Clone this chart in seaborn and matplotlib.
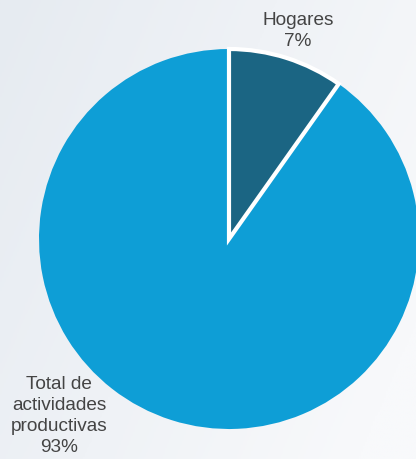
import numpy as np
import matplotlib
matplotlib.use("Agg")
import matplotlib.pyplot as plt
import seaborn as sns
from matplotlib.colors import LinearSegmentedColormap

# Data
categories = ["Hogares", "Total de\nactividades\nproductivas"]
label_pct = [7, 93]              # percentages printed in the labels
wedge_share = [9.8, 90.2]        # slice sizes as drawn in the reference
colors = ["#1b6583", "#0e9ed6"]

sns.set_theme(style="white")
plt.rcParams['font.family'] = ['Liberation Sans', 'DejaVu Sans']

fig = plt.figure(figsize=(4.16, 4.60), dpi=100)

# background gradient
bg = fig.add_axes([0, 0, 1, 1])
bg.set_axis_off()
yy, xx = np.mgrid[0:1:200j, 0:1:200j]
grad = np.clip(0.75 * xx + 0.35 * yy, 0, 1)
cmap = LinearSegmentedColormap.from_list("bg", ["#e6ebf1", "#f8f9fb"])
bg.imshow(grad, cmap=cmap, aspect="auto", extent=[0, 1, 0, 1], origin="upper")

W, H = 416, 460
cx, cy, r = 229, 240, 190
ax = fig.add_axes([(cx - r) / W, (H - cy - r) / H, 2 * r / W, 2 * r / H])
ax.set_axis_off()
wedges, _ = ax.pie(wedge_share, colors=colors, startangle=90, counterclock=False,
                   radius=1.0, wedgeprops=dict(linewidth=0))
# white separator only around the small slice
wedges[1].set_zorder(1)
wedges[0].set_zorder(2)
wedges[0].set_edgecolor("white")
wedges[0].set_linewidth(3)
ax.set_xlim(-1, 1)
ax.set_ylim(-1, 1)

ax.text(0.363, 1.10, f"{categories[0]}\n{label_pct[0]}%", ha="center", va="center",
        fontsize=13.7, color="#444444", linespacing=1.3, clip_on=False)
ax.text(-0.895, -0.925, f"{categories[1]}\n{label_pct[1]}%", ha="center", va="center",
        fontsize=13.7, color="#444444", linespacing=1.3, clip_on=False)

fig.savefig("out.png", dpi=100)
